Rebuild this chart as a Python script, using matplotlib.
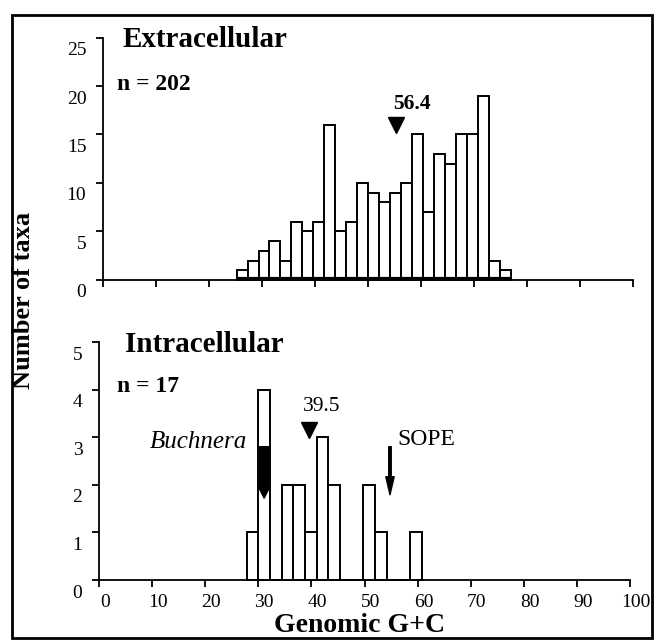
"""Genomic G+C histograms: extracellular vs intracellular taxa."""

import matplotlib

matplotlib.use("Agg")
import matplotlib.pyplot as plt
import matplotlib.transforms as mtransforms
import numpy as np
from matplotlib.patches import Rectangle

plt.rcParams["font.family"] = ["Liberation Serif", "DejaVu Serif"]

# Extracellular panel: bar counts, first bin edge and bin width
extra_counts = [1, 2, 3, 4, 2, 6, 5, 6, 16, 5, 6, 10, 9, 8, 9, 10,
                15, 7, 13, 12, 15, 15, 19, 2, 1]
extra_start, extra_width = 25.2, 2.07
extra_mean_label = "56.4"
extra_mean_x = 55.3

# Intracellular panel
intra_counts = [1, 4, 0, 2, 2, 1, 3, 2, 0, 0, 2, 1, 0, 0, 1]
intra_start, intra_width = 27.8, 2.2
intra_mean_label = "39.5"
intra_mean_x = 39.6
buchnera_x = 31.1
sope_x = 54.8

W, H = 656, 644
fig = plt.figure(figsize=(W / 100, H / 100), dpi=100)


def px_axes(left, right, bottom, top):
    return fig.add_axes([left / W, 1 - bottom / H, (right - left) / W, (bottom - top) / H])


def style(ax, yticks, show_xlabels):
    for s in ("top", "right"):
        ax.spines[s].set_visible(False)
    for s in ("left", "bottom"):
        ax.spines[s].set_linewidth(1.3)
    ax.set_xlim(0, 100)
    ax.set_xticks(range(0, 101, 10))
    ax.set_yticks(yticks)
    ax.set_ylim(0, yticks[-1])
    ax.tick_params(direction="out", length=5, width=1.3, labelsize=14, pad=7)
    ax.tick_params(axis="x", pad=5)
    if not show_xlabels:
        ax.set_xticklabels([])
    # tick labels sit a little off the ticks in the printed figure
    for lab in ax.get_yticklabels():
        lab.set_transform(lab.get_transform() +
                          mtransforms.ScaledTranslation(0, -0.11, fig.dpi_scale_trans))
    for lab in ax.get_xticklabels():
        lab.set_transform(lab.get_transform() +
                          mtransforms.ScaledTranslation(0.06, 0, fig.dpi_scale_trans))


def draw_bars(ax, counts, start, width):
    lefts = start + width * np.arange(len(counts))
    ax.bar(lefts, counts, width=width, align="edge", facecolor="white",
           edgecolor="black", linewidth=1.4, clip_on=False, zorder=3)
    return lefts


# --- extracellular ---
ax1 = px_axes(103, 633, 280, 37.5)
style(ax1, [0, 5, 10, 15, 20, 25], False)
lefts = draw_bars(ax1, extra_counts, extra_start, extra_width)
ax1.hlines(0.1, lefts[0], lefts[-1] + extra_width, color="black", lw=3, zorder=4)
ax1.plot([extra_mean_x], [16.0], marker="v", ms=12, color="black", zorder=5)
ax1.text(58.2, 17.6, extra_mean_label, ha="center", va="baseline",
         fontsize=15.5, fontweight="bold")

# --- intracellular ---
ax2 = px_axes(99, 630, 580, 342)
style(ax2, [0, 1, 2, 3, 4, 5], True)
draw_bars(ax2, intra_counts, intra_start, intra_width)
ax2.plot([intra_mean_x], [3.16], marker="v", ms=12, color="black", zorder=5)
ax2.text(41.9, 3.56, intra_mean_label, ha="center", va="baseline", fontsize=15.5)
ax2.annotate("", xy=(buchnera_x, 1.72), xytext=(buchnera_x, 2.8),
             arrowprops=dict(facecolor="black", edgecolor="black", width=6.5,
                             headwidth=9, headlength=9, shrink=0), zorder=6)
ax2.annotate("", xy=(sope_x, 1.79), xytext=(sope_x, 2.8),
             arrowprops=dict(facecolor="black", edgecolor="black", width=1.8,
                             headwidth=6, headlength=13, shrink=0), zorder=6)
ax2.text(27.8, 2.77, "Buchnera", ha="right", va="baseline", fontsize=18,
         fontstyle="italic")
ax2.text(56.1, 2.84, "SOPE", ha="left", va="baseline", fontsize=17)

# panel titles and axis labels
fig.text(123 / W, 1 - 47 / H, "Extracellular", fontsize=21, fontweight="bold",
         va="baseline")
fig.text(117 / W, 1 - 90 / H, "n = 202", fontsize=17, fontweight="bold",
         va="baseline")
fig.text(125 / W, 1 - 352 / H, "Intracellular", fontsize=21, fontweight="bold",
         va="baseline")
fig.text(117 / W, 1 - 392 / H, "n = 17", fontsize=17, fontweight="bold",
         va="baseline")
fig.text(24 / W, 1 - 300 / H, "Number of taxa", rotation=90, fontsize=19,
         fontweight="bold", ha="center", va="center")
fig.text(360 / W, 1 - 625 / H, "Genomic G+C", fontsize=20, fontweight="bold",
         ha="center", va="center")

# frame around the whole figure
fig.patches.append(Rectangle((12 / W, 1 - 638 / H), 640 / W, 623 / H,
                             transform=fig.transFigure, fill=False,
                             edgecolor="black", linewidth=2))

fig.savefig("out.png", dpi=100)
